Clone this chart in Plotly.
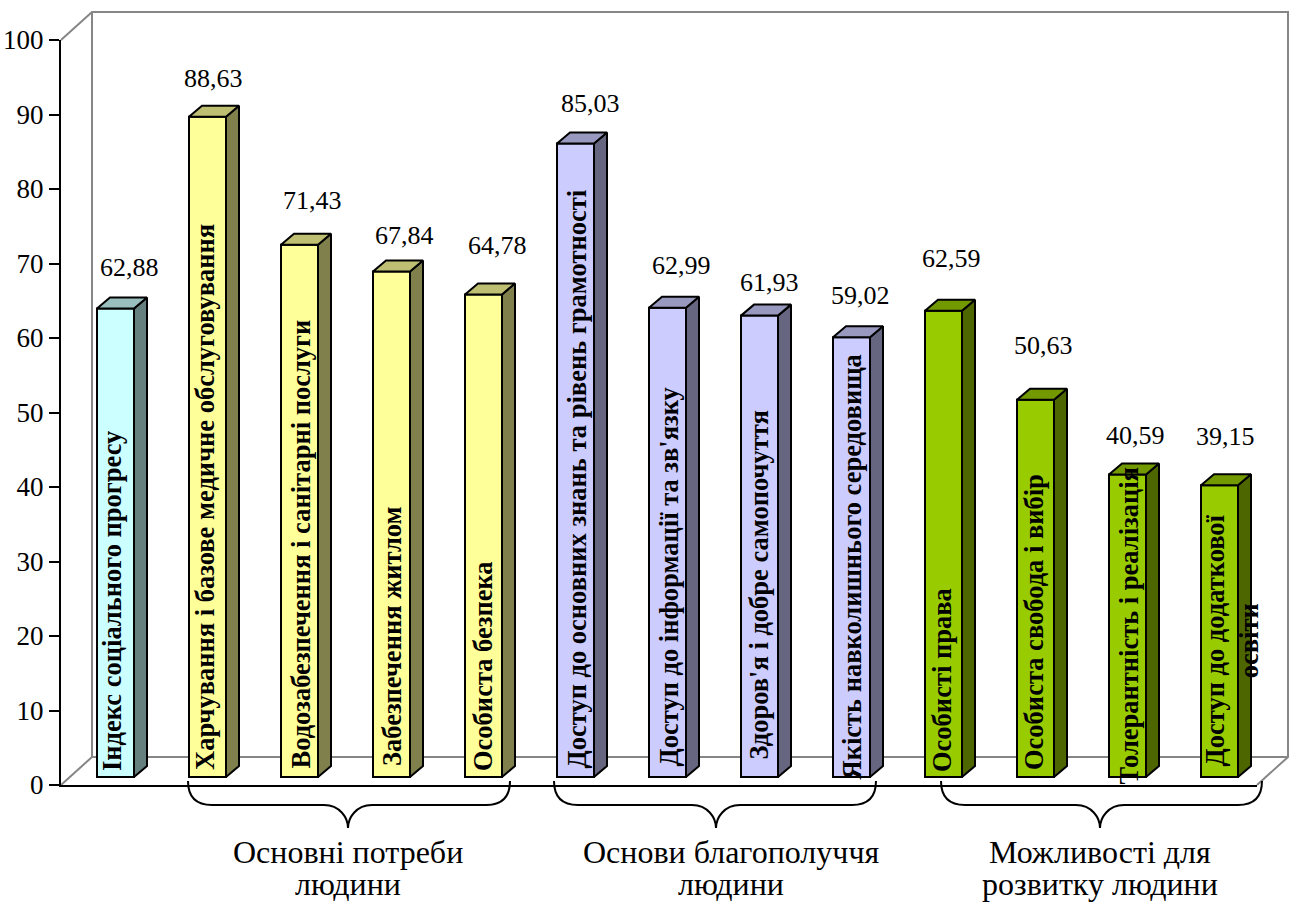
import plotly.graph_objects as go

# ---- data ----
categories = ["Індекс соціального прогресу",
              "Харчування і базове медичне обслуговування",
              "Водозабезпечення і санітарні послуги",
              "Забезпечення житлом",
              "Особиста безпека",
              "Доступ до основних знань та рівень грамотності",
              "Доступ до інформації та зв'язку",
              "Здоров'я і добре самопочуття",
              "Якість навколишнього середовища",
              "Особисті права",
              "Особиста свобода і вибір",
              "Толерантність і реалізація",
              "Доступ до додаткової<br>освіти"]
values = [62.88, 88.63, 71.43, 67.84, 64.78, 85.03, 62.99, 61.93, 59.02, 62.59, 50.63, 40.59, 39.15]
groups = [0, 1, 1, 1, 1, 2, 2, 2, 2, 3, 3, 3, 3]
y_ticks = list(range(0, 101, 10))
brace_titles = [["Основні потреби", "людини"], ["Основи благополуччя", "людини"], ["Можливості для", "розвитку людини"]]

# ---- styles ----
front_colors = ["#CCFFFF", "#FFFF99", "#CCCCFF", "#99CC00"]
side_colors = ["#668080", "#80804D", "#666680", "#4D6600"]
top_colors = ["#99BFBF", "#BFBF73", "#9999BF", "#739900"]
FONT = "Liberation Serif"

# ---- layout geometry (pixels) ----
W, H = 1295, 904
L, R, T, B = 61, 1257, 40, 785
PX_X = (R - L) / 13
PX_Y = (B - T) / 100
WALL_DX, WALL_DY = 31, 28
BAR_DX, BAR_DY = 13, 11
SHIFT_X, SHIFT_Y = 8.5, 8
BAR_W = 37 / PX_X

# nudges of hand-placed labels (pixels)
value_x_nudge = [13.5, 5.5, 12.5, 12.5, 13.5, 14.5, 13.5, 9.5, 8.5, 7.5, 7.5, 7.5, 5.5]
value_y_nudge = [41, 38, 44, 36, 49, 40, 42, 33, 42, 52, 54, 39, 49]
label_x_nudge = [-3.5, -2.5, 0.5, 0.5, -0.5, 0.5, 0.5, -1.5, -0.5, -1.5, -1.5, 0.5, 12]
label_y_nudge = [4, 5, 6, 9, 4, 6, 8, 15, -5, 3, 5, -10, 8]

xs = [i + SHIFT_X / PX_X for i in range(len(values))]
base = SHIFT_Y / PX_Y
dx = BAR_DX / PX_X
dy = BAR_DY / PX_Y


def px(x):
    return (x - L) / (R - L)


def py(y):
    return (B - y) / (B - T)


def path(points, close=False):
    d = "M " + " L ".join(f"{px(a):.5f},{py(b):.5f}" for a, b in points)
    return d + (" Z" if close else "")


def brace(x0, x1, tip):
    y0, ym, y1 = 781, 805, 828
    r = 24
    P = lambda a, b: f"{px(a):.5f},{py(b):.5f}"
    return (f"M {P(x0, y0)} C {P(x0, ym - 8)} {P(x0 + 8, ym)} {P(x0 + r, ym)} "
            f"L {P(tip - r, ym)} C {P(tip - 8, ym)} {P(tip, y1 - 10)} {P(tip, y1)} "
            f"C {P(tip, y1 - 10)} {P(tip + 8, ym)} {P(tip + r, ym)} "
            f"L {P(x1 - r, ym)} C {P(x1 - 8, ym)} {P(x1, ym - 8)} {P(x1, y0)}")


fig = go.Figure()
fig.add_trace(go.Bar(
    x=xs, y=values, base=base, width=BAR_W,
    marker=dict(color=[front_colors[g] for g in groups], line=dict(color="black", width=2)),
    showlegend=False, hoverinfo="x+y"))

half = BAR_W / 2
for g in range(4):
    sx, sy, tx, ty = [], [], [], []
    for x, v, gg in zip(xs, values, groups):
        if gg != g:
            continue
        r = x + half
        l = x - half
        t = base + v
        sx += [r, r + dx, r + dx, r, r, None]
        sy += [base, base + dy, t + dy, t, base, None]
        tx += [l, l + dx, r + dx, r, l, None]
        ty += [t, t + dy, t + dy, t, t, None]
    for ax, ay, c in ((sx, sy, side_colors[g]), (tx, ty, top_colors[g])):
        fig.add_trace(go.Scatter(x=ax, y=ay, mode="lines", fill="toself", fillcolor=c,
                                 line=dict(color="black", width=2), cliponaxis=False,
                                 showlegend=False, hoverinfo="skip"))

shapes = []
wall = "#868686"
for pts in ([(L, T), (L + WALL_DX, T - WALL_DY), (R + WALL_DX, T - WALL_DY),
             (R + WALL_DX, B - WALL_DY), (R, B)],
            [(L, B), (L + WALL_DX, B - WALL_DY), (R + WALL_DX, B - WALL_DY)],
            [(L + WALL_DX, T - WALL_DY), (L + WALL_DX, B - WALL_DY)]):
    shapes.append(dict(type="path", path=path(pts), xref="paper", yref="paper",
                       line=dict(color=wall, width=2), layer="below"))

for x0, x1, tip in ((188, 510, 348), (554, 876, 716), (941, 1262, 1100)):
    shapes.append(dict(type="path", path=brace(x0, x1, tip), xref="paper", yref="paper",
                       line=dict(color="black", width=2)))

ann = []
for i, (x, v) in enumerate(zip(xs, values)):
    ann.append(dict(x=x, y=base + v, xref="x", yref="y", showarrow=False,
                    text=f"{v:.2f}".replace(".", ","),
                    xshift=value_x_nudge[i], yshift=value_y_nudge[i],
                    xanchor="center", yanchor="middle",
                    font=dict(family=FONT, size=26, color="black")))
    ann.append(dict(x=x, y=base, xref="x", yref="y", showarrow=False,
                    text=f"<b>{categories[i]}</b>", textangle=-90,
                    xshift=label_x_nudge[i], yshift=label_y_nudge[i],
                    xanchor="center", yanchor="bottom",
                    font=dict(family=FONT, size=26.5, color="black")))
for lines, cx in zip(brace_titles, (348, 731, 1100)):
    for line, cy in zip(lines, (852, 884)):
        ann.append(dict(x=px(cx), y=py(cy), xref="paper", yref="paper", showarrow=False,
                        text=line, xanchor="center", yanchor="middle", align="center",
                        font=dict(family=FONT, size=32, color="black")))

fig.update_layout(
    width=W, height=H, autosize=False,
    margin=dict(l=L, r=W - R, t=T, b=H - B, pad=0),
    paper_bgcolor="white", plot_bgcolor="rgba(0,0,0,0)",
    showlegend=False, shapes=shapes, annotations=ann,
    xaxis=dict(range=[-0.5, 12.5], showgrid=False, zeroline=False, showticklabels=False, automargin=False,
               ticks="", showline=True, linecolor="black", linewidth=2),
    yaxis=dict(range=[0, 100], tickmode="array", tickvals=y_ticks, ticktext=[str(t) for t in y_ticks],
               showgrid=False, zeroline=False, showline=True, linecolor="black", linewidth=2, automargin=False,
               ticks="outside", ticklen=10, tickwidth=2, tickcolor="black",
               tickfont=dict(family=FONT, size=27, color="black")),
)

fig.write_html("out.html", config={"displayModeBar": False},
               post_script="document.body.style.margin='0';document.body.style.overflow='hidden';")
